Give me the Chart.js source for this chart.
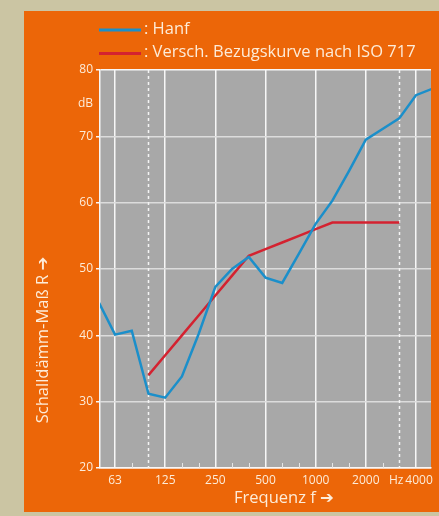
<!DOCTYPE html>
<html>
<head>
<meta charset="utf-8">
<script src="https://cdn.jsdelivr.net/npm/chart.js@4.4.0/dist/chart.umd.min.js"></script>
<style>
  html, body { margin: 0; padding: 0; background: #cbc5a3; }
  #wrap { width: 439px; height: 516px; position: relative; }
</style>
</head>
<body>
<div id="wrap"><canvas id="soundChart" width="439" height="516"></canvas></div>
<script>
// third-octave bands, 50 Hz .. 5000 Hz
const bands = [50, 63, 80, 100, 125, 160, 200, 250, 315, 400, 500, 630, 800, 1000, 1250, 1600, 2000, 2500, 3150, 4000, 5000];
const hanf = [45.1, 40.1, 40.7, 31.2, 30.6, 33.8, 40.2, 47.3, 50.0, 51.8, 48.7, 47.9, 52.3, 56.8, 60.3, 64.8, 69.5, 71.1, 72.7, 76.2, 77.2];
const isoRef = [null, null, null, 34, 37, 40, 43, 46, 49, 52, 53, 54, 55, 56, 57, 57, 57, 57, 57, null, null];
// padded with spaces so "Hz" and "4000" sit apart like the original
const tickLabels = { 63: '63', 125: '125', 250: '250', 500: '500', 1000: '1000', 2000: '2000', 3150: 'Hz  ', 4000: '  4000' };
const octaves = [63, 125, 250, 500, 1000, 2000, 4000];
const dashedBands = [100, 3150];
const yTicks = [20, 30, 40, 50, 60, 70, 80];

const textColor = '#fdecd9';
const fontName = "'Open Sans', 'DejaVu Sans', sans-serif";

const hanfPoints = hanf.map((v, i) => ({ x: i, y: v }));
const isoPoints = isoRef.map((v, i) => ({ x: i, y: v }));

const backgroundPlugin = {
    id: 'panel',
    beforeDraw(chart) {
        const { ctx, chartArea } = chart;
        ctx.save();
        ctx.fillStyle = '#cbc5a3';
        ctx.fillRect(0, 0, chart.width, chart.height);
        ctx.fillStyle = '#ec6608';
        ctx.fillRect(24, 11, chart.width - 24, 501);
        ctx.fillStyle = '#a8a8a8';
        ctx.fillRect(chartArea.left, chartArea.top, chartArea.right - chartArea.left, chartArea.bottom - chartArea.top);
        ctx.restore();
    },
    beforeDatasetsDraw(chart) {
        const { ctx, chartArea, scales } = chart;
        const x = scales.x;
        ctx.save();
        // dashed lines at 100 Hz and 3150 Hz
        ctx.strokeStyle = '#f4f4f4';
        ctx.lineWidth = 1.5;
        ctx.setLineDash([3, 3]);
        dashedBands.forEach(f => {
            const px = Math.round(x.getPixelForValue(bands.indexOf(f))) + 0.5;
            ctx.beginPath();
            ctx.moveTo(px, chartArea.top);
            ctx.lineTo(px, chartArea.bottom);
            ctx.stroke();
        });
        ctx.setLineDash([]);
        // small band ticks along the bottom
        ctx.strokeStyle = '#e6e6e6';
        ctx.lineWidth = 1;
        bands.forEach((f, i) => {
            if (octaves.includes(f) || dashedBands.includes(f)) return;
            const px = Math.round(x.getPixelForValue(i)) + 0.5;
            if (px <= chartArea.left || px >= chartArea.right) return;
            ctx.beginPath();
            ctx.moveTo(px, chartArea.bottom);
            ctx.lineTo(px, chartArea.bottom - 5);
            ctx.stroke();
        });
        ctx.restore();
    },
    afterDraw(chart) {
        const { ctx } = chart;
        ctx.save();
        // legend
        chart.data.datasets.forEach((ds, i) => {
            const y = 30 + i * 23.5;
            ctx.strokeStyle = ds.borderColor;
            ctx.lineWidth = 3;
            ctx.beginPath();
            ctx.moveTo(99, y);
            ctx.lineTo(141, y);
            ctx.stroke();
            ctx.fillStyle = textColor;
            ctx.font = '16.5px ' + fontName;
            ctx.textBaseline = 'middle';
            ctx.textAlign = 'left';
            ctx.fillText(': ' + ds.label, 144, y - 1);
        });
        // unit
        ctx.font = '12px ' + fontName;
        ctx.textAlign = 'right';
        ctx.fillText('dB', 93, 104);
        // axis titles
        ctx.font = '16.5px ' + fontName;
        ctx.textAlign = 'center';
        ctx.fillText('Frequenz f \u2794', 284, 498);
        ctx.translate(43, 340);
        ctx.rotate(-Math.PI / 2);
        ctx.fillText('Schalldämm-Maß R \u2794', 0, 0);
        ctx.restore();
    }
};

const ctx = document.getElementById('soundChart').getContext('2d');
const soundChart = new Chart(ctx, {
    type: 'line',
    data: {
        datasets: [
            {
                label: 'Hanf',
                data: hanfPoints,
                borderColor: '#1b8fca',
                borderWidth: 2.5,
                pointRadius: 0,
                tension: 0
            },
            {
                label: 'Versch. Bezugskurve nach ISO 717',
                data: isoPoints,
                borderColor: '#d42230',
                borderWidth: 2.5,
                pointRadius: 0,
                tension: 0
            }
        ]
    },
    options: {
        responsive: false,
        animation: false,
        events: [],
        layout: { padding: { top: 70, right: 8, left: 0, bottom: 0 } },
        plugins: {
            legend: { display: false },
            tooltip: { enabled: false }
        },
        scales: {
            x: {
                type: 'linear',
                min: 0.1,
                max: 19.9,
                afterBuildTicks: scale => {
                    scale.ticks = bands.map((f, i) => ({ value: i })).filter(t => t.value >= 1 && t.value <= 19);
                },
                afterFit: scale => { scale.height = 48; },
                ticks: {
                    autoSkip: false,
                    maxRotation: 0,
                    color: textColor,
                    font: { family: fontName, size: 12 },
                    padding: 5,
                    callback: value => tickLabels[bands[value]] || ''
                },
                grid: {
                    drawTicks: false,
                    lineWidth: 1.5,
                    color: c => octaves.includes(bands[c.tick.value]) ? '#f7f7f7' : 'rgba(0,0,0,0)'
                },
                border: { color: '#f7f7f7', width: 1.5 }
            },
            y: {
                min: 20,
                max: 80,
                afterBuildTicks: scale => { scale.ticks = yTicks.map(v => ({ value: v })); },
                afterFit: scale => { scale.width = 100; },
                ticks: {
                    color: textColor,
                    font: { family: fontName, size: 12 },
                    padding: 3
                },
                grid: {
                    tickLength: 4,
                    lineWidth: 1.5,
                    tickColor: '#f7f7f7',
                    color: c => (c.tick.value === 80 || c.tick.value === 20) ? '#f7f7f7' : '#dcdcdc'
                },
                border: { color: '#f7f7f7', width: 1.5 }
            }
        }
    },
    plugins: [backgroundPlugin]
});
</script>
</body>
</html>
